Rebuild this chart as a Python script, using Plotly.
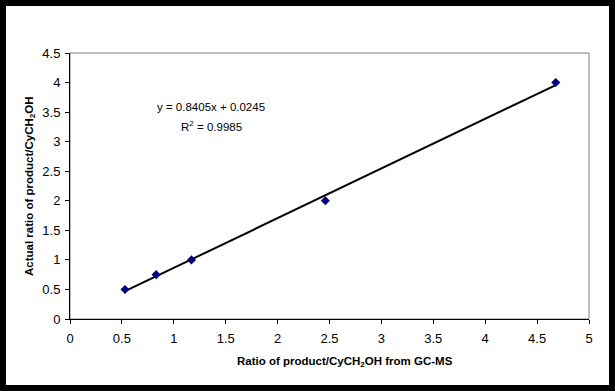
import plotly.graph_objects as go

# Data
x_gcms = [0.53, 0.83, 1.17, 2.46, 4.68]
y_actual = [0.5, 0.75, 1.0, 2.0, 4.0]
slope = 0.8405
intercept = 0.0245
eq_text = "y = 0.8405x + 0.0245"
r2_text = "R<sup>2</sup> = 0.9985"
x_title = "<b>Ratio of product/CyCH<sub>2</sub>OH from GC-MS</b>"
y_title = "<b>Actual ratio of product/CyCH<sub>2</sub>OH</b>"
x_ticks = [0, 0.5, 1, 1.5, 2, 2.5, 3, 3.5, 4, 4.5, 5]
y_ticks = [0, 0.5, 1, 1.5, 2, 2.5, 3, 3.5, 4, 4.5]

W, H = 615, 391
ml, mr, mt, mb = 70, 26, 53, 72
pw, ph = W - ml - mr, H - mt - mb

font = "Arial, 'Liberation Sans', sans-serif"


def px(xp):
    return (xp - ml) / pw


def py(yp):
    return 1 - (yp - mt) / ph


trend_x = [min(x_gcms), max(x_gcms)]
trend_y = [slope * v + intercept for v in trend_x]

fig = go.Figure()
fig.add_trace(go.Scatter(x=trend_x, y=trend_y, mode="lines",
                         line=dict(color="black", width=2), showlegend=False, hoverinfo="skip"))
fig.add_trace(go.Scatter(x=x_gcms, y=y_actual, mode="markers",
                         marker=dict(symbol="diamond", size=7, color="#000080"),
                         showlegend=False))

fig.update_layout(
    width=W, height=H,
    margin=dict(l=ml, r=mr, t=mt, b=mb, autoexpand=False),
    paper_bgcolor="white", plot_bgcolor="white",
    font=dict(family=font, size=12, color="black"),
    xaxis=dict(range=[0, 5], tickvals=x_ticks, ticktext=[str(v) for v in x_ticks],
               showgrid=False, zeroline=False, showline=True, linecolor="black", linewidth=1,
               ticks="outside", ticklen=4, tickcolor="black", automargin=False,
               ticklabelstandoff=3, tickfont=dict(size=13)),
    yaxis=dict(range=[0, 4.5], tickvals=y_ticks, ticktext=[str(v) for v in y_ticks],
               showgrid=False, zeroline=False, showline=True, linecolor="black", linewidth=1,
               ticks="outside", ticklen=4, tickcolor="black", automargin=False,
               ticklabelstandoff=2, tickfont=dict(size=13)),
    annotations=[
        dict(x=px(211), y=py(107), xref="paper", yref="paper", xanchor="center", yanchor="middle",
             text=eq_text, showarrow=False, font=dict(size=11.5)),
        dict(x=px(211), y=py(126), xref="paper", yref="paper", xanchor="center", yanchor="middle",
             text=r2_text, showarrow=False, font=dict(size=11.5)),
        dict(x=px(345), y=py(362), xref="paper", yref="paper", xanchor="center", yanchor="middle",
             text=x_title, showarrow=False, font=dict(size=11.5)),
        dict(x=px(30), y=py(186), xref="paper", yref="paper", xanchor="center", yanchor="middle",
             text=y_title, showarrow=False, textangle=-90, font=dict(size=11.5)),
    ],
    shapes=[
        dict(type="rect", xref="paper", yref="paper", x0=0, x1=1, y0=0, y1=1,
             line=dict(color="#808080", width=1), layer="below"),
        dict(type="rect", xref="paper", yref="paper",
             x0=px(0), x1=px(W), y0=py(H), y1=py(0),
             line=dict(color="black", width=12), layer="above"),
    ],
)

fig.write_html("out.html", config={"displayModeBar": False},
               post_script="document.body.style.margin='0';document.body.style.overflow='hidden';")
